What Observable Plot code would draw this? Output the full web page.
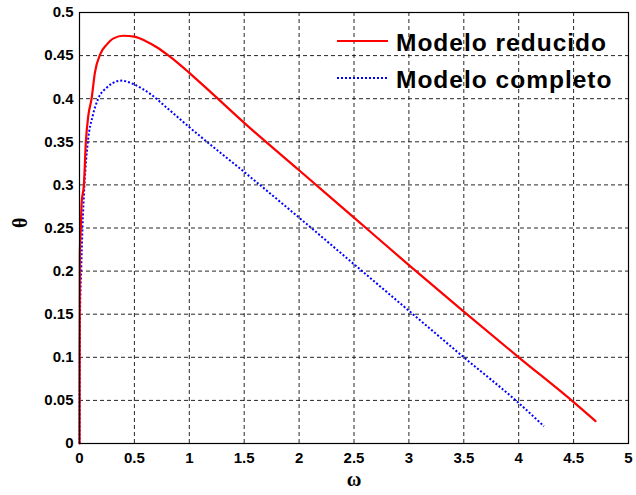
<!DOCTYPE html>
<html>
<head>
<meta charset="utf-8">
<script src="https://cdn.jsdelivr.net/npm/d3@7"></script>
<script src="https://cdn.jsdelivr.net/npm/@observablehq/plot@0.6"></script>
<style>
  html, body { margin: 0; padding: 0; background: #fff; }
</style>
</head>
<body>
<div id="chart"></div>
<script>
// Modelo reducido (red, solid)
const redW = [0, 0.001, 0.003, 0.012, 0.02, 0.04, 0.058, 0.08, 0.11, 0.14, 0.19, 0.25, 0.31, 0.4, 0.5, 0.6, 0.7, 0.8, 0.9, 1.0, 1.2, 1.5, 2.0, 2.5, 3.0, 3.5, 4.0, 4.5, 4.7];
const redT = [0, 0.1, 0.22, 0.25, 0.28, 0.3, 0.35, 0.38, 0.4, 0.43, 0.452, 0.463, 0.47, 0.473, 0.472, 0.467, 0.46, 0.451, 0.441, 0.43, 0.407, 0.372, 0.317, 0.262, 0.207, 0.153, 0.1, 0.048, 0.026];
// Modelo completo (blue, dotted)
const blueW = [0, 0.002, 0.005, 0.015, 0.027, 0.045, 0.076, 0.12, 0.17, 0.25, 0.3, 0.38, 0.49, 0.65, 0.8, 1.0, 1.5, 2.0, 2.5, 3.0, 3.5, 4.0, 4.23];
const blueT = [0, 0.1, 0.15, 0.2, 0.25, 0.3, 0.35, 0.38, 0.4, 0.413, 0.418, 0.421, 0.417, 0.405, 0.389, 0.367, 0.315, 0.262, 0.208, 0.154, 0.1, 0.047, 0.02];

const xTicks = [0, 0.5, 1, 1.5, 2, 2.5, 3, 3.5, 4, 4.5, 5];
const yTicks = [0, 0.05, 0.1, 0.15, 0.2, 0.25, 0.3, 0.35, 0.4, 0.45, 0.5];
const seriesNames = ["Modelo reducido", "Modelo completo"];
const xLabel = "ω";
const yLabel = "θ";

const red = redW.map((w, i) => ({w, t: redT[i]}));
const blue = blueW.map((w, i) => ({w, t: blueT[i]}));

const W = 636, H = 495;
const mL = 79, mR = 8, mT = 12, mB = 52;

const plot = Plot.plot({
  width: W,
  height: H,
  marginLeft: mL,
  marginRight: mR,
  marginTop: mT,
  marginBottom: mB,
  style: {fontFamily: "'Liberation Sans', Arial, sans-serif", fontSize: "15px", fontWeight: "bold", background: "#fff", color: "#000"},
  x: {domain: [0, 5], ticks: xTicks, tickFormat: d => String(d)},
  y: {domain: [0, 0.5], ticks: yTicks, tickFormat: d => String(d)},
  marks: [
    Plot.gridX(xTicks, {stroke: "#000", strokeOpacity: 0.85, strokeDasharray: "4,3", strokeWidth: 1}),
    Plot.gridY(yTicks, {stroke: "#000", strokeOpacity: 0.85, strokeDasharray: "4,3", strokeWidth: 1}),
    Plot.axisX({ticks: xTicks, tickSize: 0, tickPadding: 9, label: null, tickFormat: d => String(d), fontSize: 15, fontWeight: "bold"}),
    Plot.axisY({ticks: yTicks, tickSize: 0, tickPadding: 6, label: null, tickFormat: d => String(d), fontSize: 15, fontWeight: "bold"}),
    Plot.line(blue, {x: "w", y: "t", stroke: "#0000ff", strokeWidth: 2, strokeDasharray: "2,2", strokeLinecap: "butt", curve: "monotone-x"}),
    Plot.line(red, {x: "w", y: "t", stroke: "#ff0000", strokeWidth: 2.2, curve: "monotone-x"}),
    Plot.frame({stroke: "#000", strokeWidth: 1.2}),
    Plot.text([xLabel], {frameAnchor: "bottom", dy: 42, fontFamily: "'Liberation Serif', 'Times New Roman', serif", fontSize: 20, fontWeight: "bold", fill: "#000"}),
    Plot.text([yLabel], {frameAnchor: "left", dx: -59, rotate: -90, fontFamily: "'Liberation Serif', 'Times New Roman', serif", fontSize: 20, fontWeight: "bold", fill: "#000"})
  ]
});

// Legend (inside, top-right, no box)
const svg = d3.select(plot);
const legend = svg.append("g")
  .attr("font-family", "'Liberation Sans', Arial, sans-serif")
  .attr("font-size", 24.5)
  .attr("font-weight", "bold")
  .attr("text-anchor", "start");
const lx = W - mR - 291; // sample start
const rows = [
  {name: seriesNames[0], color: "#ff0000", dash: null, width: 2.2, y: mT + 29},
  {name: seriesNames[1], color: "#0000ff", dash: "2,2", width: 2, y: mT + 66}
];
rows.forEach(r => {
  legend.append("line")
    .attr("x1", lx).attr("x2", lx + 51)
    .attr("y1", r.y).attr("y2", r.y)
    .attr("stroke", r.color).attr("stroke-width", r.width)
    .attr("stroke-dasharray", r.dash);
  legend.append("text")
    .attr("x", lx + 59).attr("y", r.y + 10)
    .attr("text-anchor", "start")
    .attr("letter-spacing", "1px")
    .attr("fill", "#000")
    .text(r.name);
});

document.getElementById("chart").appendChild(plot);
</script>
</body>
</html>
